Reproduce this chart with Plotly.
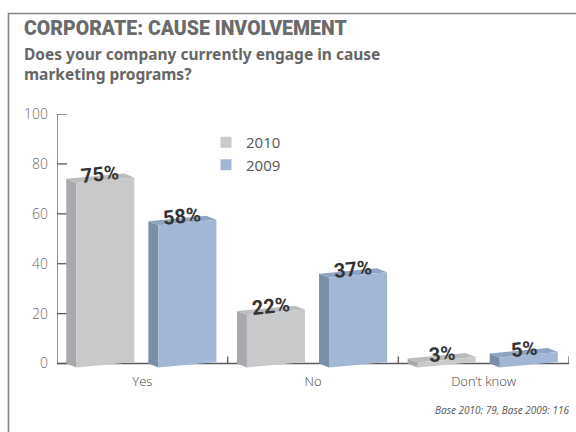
import plotly.graph_objects as go

# ---- data -------------------------------------------------------------
categories = ["Yes", "No", "Don\u2019t know"]
series_names = ["2010", "2009"]
values_2010 = [75, 22, 3]
values_2009 = [58, 37, 5]
y_tick_values = [0, 20, 40, 60, 80, 100]

title_text = "CORPORATE: CAUSE INVOLVEMENT"
subtitle_text = "Does your company currently engage in cause<br>marketing programs?"
footer_text = "Base 2010: 79, Base 2009: 116"

# ---- styling ----------------------------------------------------------
W, H = 576, 432
M_L, M_R, M_T, M_B = 57, 7, 114, 60
Y_MIN, Y_MAX = -3.4, 100

faces = {
    "2010": dict(front="#c8c9cb", side="#a8a9ac", top="#bbbcbe"),
    "2009": dict(front="#a2b7d6", side="#7a8ea8", top="#8ea4c3"),
}
# horizontal extent of each series' front face, relative to the category centre
front_span = {"2010": (-0.387, -0.047), "2009": (0.094, 0.434)}
DEPTH_X = 0.0586     # how far the receding faces shift left
DEPTH_Y = 1.6        # how far they rise
TILT = 2.2           # slight perspective tilt of the front face
TICK_LEN_X = 10 / (W - M_L - M_R) * len(categories)   # 10 px in x data units

def px_x(p):
    return (p - M_L) / (W - M_L - M_R)

def px_y(p):
    return (H - M_B - p) / (H - M_T - M_B)

fig = go.Figure()

series_values = {"2010": values_2010, "2009": values_2009}

for name in series_names:
    vals = series_values[name]
    fx, fy, sx, sy, tx, ty = [], [], [], [], [], []
    for i, v in enumerate(vals):
        xl = i + front_span[name][0]
        xr = i + front_span[name][1]
        bl, br = -1.6, -1.6 + TILT
        tl, tr = v - 2.6, v - 2.6 + TILT
        # front face
        fx += [xl, xr, xr, xl, xl, None]
        fy += [bl, br, tr, tl, bl, None]
        # left side face
        sx += [xl, xl, xl - DEPTH_X, xl - DEPTH_X, xl, None]
        sy += [bl, tl, tl + DEPTH_Y, bl + DEPTH_Y, bl, None]
        # top face
        tx += [xl, xr, xr - DEPTH_X, xl - DEPTH_X, xl, None]
        ty += [tl, tr, tr + DEPTH_Y, tl + DEPTH_Y, tl, None]
    for xs, ys, col in ((sx, sy, faces[name]["side"]),
                        (tx, ty, faces[name]["top"]),
                        (fx, fy, faces[name]["front"])):
        fig.add_trace(go.Scatter(
            x=xs, y=ys, mode="lines", fill="toself", fillcolor=col,
            line=dict(width=0, color=col), hoverinfo="skip", showlegend=False))

# legend entries
for name in series_names:
    fig.add_trace(go.Scatter(
        x=[None], y=[None], mode="markers", name=name,
        marker=dict(symbol="square", size=11, color=faces[name]["front"])))

# value labels on top of each bar
for name in series_names:
    vals = series_values[name]
    for i, v in enumerate(vals):
        cx = i + sum(front_span[name]) / 2 - 0.03
        fig.add_annotation(
            x=cx, y=v + 1.0, xref="x", yref="y", text=f"<b>{v}%</b>",
            showarrow=False, textangle=-6, xanchor="center", yanchor="middle",
            font=dict(family="Liberation Sans Narrow, Roboto, sans-serif",
                      size=20, color="#333333"))

# axis lines, y ticks and category separators
axis_col = "#5a5a5a"
fig.add_shape(type="line", xref="x", yref="y", x0=-0.5, x1=-0.5, y0=0, y1=100,
              line=dict(color=axis_col, width=1.3), layer="below")
fig.add_shape(type="line", xref="x", yref="y", x0=-0.5, x1=len(categories) - 0.5,
              y0=0, y1=0, line=dict(color=axis_col, width=1.3), layer="below")
for t in y_tick_values:
    fig.add_shape(type="line", xref="x", yref="y", x0=-0.5, x1=-0.5 + TICK_LEN_X,
                  y0=t, y1=t, line=dict(color=axis_col, width=1.3), layer="below")
for k in range(len(categories)):
    fig.add_shape(type="line", xref="x", yref="y", x0=k + 0.5, x1=k + 0.5,
                  y0=0, y1=2.8, line=dict(color=axis_col, width=1.3), layer="below")

# outer frame
fig.add_shape(type="rect", xref="paper", yref="paper",
              x0=px_x(8.5), x1=px_x(640), y0=px_y(13.5), y1=px_y(480),
              line=dict(color="#858585", width=1.6), fillcolor="rgba(0,0,0,0)")

# titles
fig.add_annotation(
    x=px_x(22), y=px_y(28.5), xref="paper", yref="paper", xanchor="left",
    yanchor="middle", showarrow=False, text=title_text,
    font=dict(family="Roboto, DejaVu Sans, sans-serif", size=19.5, color="#6b6b6b", weight=900))
fig.add_annotation(
    x=px_x(22), y=px_y(40.5), xref="paper", yref="paper", xanchor="left",
    yanchor="top", showarrow=False, align="left", text=f"<b>{subtitle_text}</b>",
    font=dict(family="Noto Sans, sans-serif", size=15.5, color="#666666"))

# footnote
fig.add_annotation(
    x=px_x(571), y=px_y(410), xref="paper", yref="paper", xanchor="right",
    yanchor="middle", showarrow=False, text=f"<i>{footer_text}</i>",
    font=dict(family="Open Sans, sans-serif", size=10, color="#555555"))

fig.update_layout(
    width=W, height=H, autosize=False,
    margin=dict(l=M_L, r=M_R, t=M_T, b=M_B, pad=0),
    paper_bgcolor="white", plot_bgcolor="white",
    showlegend=True,
    legend=dict(x=px_x(206), y=px_y(126), xanchor="left", yanchor="top",
                bgcolor="rgba(0,0,0,0)", itemwidth=30,
                font=dict(family="Open Sans, sans-serif", size=15, color="#555555")),
    xaxis=dict(range=[-0.5, len(categories) - 0.5], tickvals=list(range(len(categories))),
               ticktext=categories, ticks="", showline=False, showgrid=False,
               zeroline=False, fixedrange=True,
               tickfont=dict(family="Open Sans, sans-serif", size=13, color="#444444", weight=300)),
    yaxis=dict(range=[Y_MIN, Y_MAX], tickvals=y_tick_values, ticks="",
               showline=False, showgrid=False, zeroline=False, fixedrange=True,
               ticklabelstandoff=8,
               tickfont=dict(family="Open Sans, sans-serif", size=14, color="#6a6a6a", weight=300)),
)

fig.write_html("out.html")
